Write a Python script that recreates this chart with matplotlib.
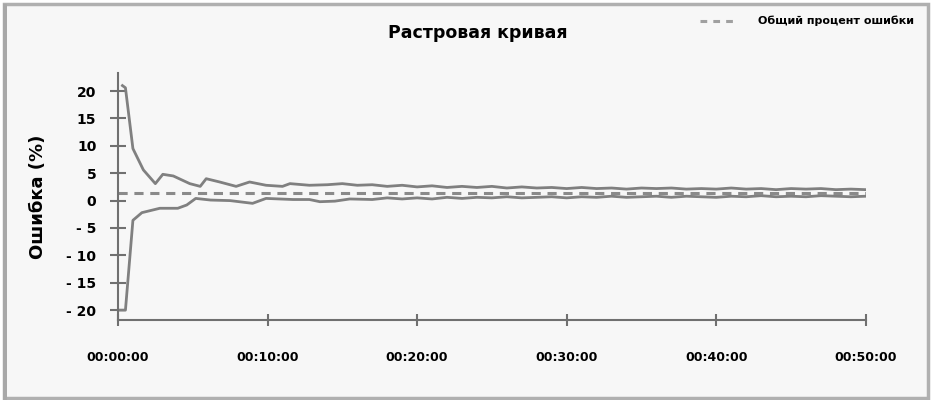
import matplotlib
matplotlib.use("Agg")
from matplotlib import pyplot as plt
from matplotlib.patches import Rectangle

# время в минутах и ошибка (%)
t_upper = [0.3, 0.5, 1.0, 1.7, 2.5, 3.0, 3.7, 4.8, 5.5, 5.9, 6.8, 7.9, 8.8, 9.9,
           11.0, 11.5, 12.8, 14, 15, 16, 17, 18, 19, 20, 21, 22, 23, 24, 25, 26,
           27, 28, 29, 30, 31, 32, 33, 34, 35, 36, 37, 38, 39, 40, 41, 42, 43,
           44, 45, 46, 47, 48, 49, 50]
upper = [21.0, 20.6, 9.5, 5.6, 3.1, 4.8, 4.5, 3.1, 2.6, 4.0, 3.4, 2.6, 3.4, 2.8,
         2.6, 3.1, 2.8, 2.9, 3.1, 2.8, 2.9, 2.6, 2.8, 2.5, 2.7, 2.4, 2.6, 2.4,
         2.6, 2.3, 2.5, 2.3, 2.4, 2.2, 2.4, 2.2, 2.3, 2.1, 2.3, 2.2, 2.3, 2.1,
         2.2, 2.1, 2.3, 2.1, 2.2, 2.0, 2.2, 2.1, 2.2, 2.0, 2.1, 2.0]

t_lower = [0.0, 0.5, 1.0, 1.6, 2.8, 4.0, 4.6, 5.2, 6.2, 7.5, 9.0, 9.9, 11.7,
           12.8, 13.5, 14.5, 15.5, 17, 18, 19, 20, 21, 22, 23, 24, 25, 26, 27,
           28, 29, 30, 31, 32, 33, 34, 35, 36, 37, 38, 39, 40, 41, 42, 43, 44,
           45, 46, 47, 48, 49, 50]
lower = [-20.0, -20.0, -3.6, -2.2, -1.4, -1.4, -0.8, 0.4, 0.1, 0.0, -0.5, 0.4,
         0.2, 0.2, -0.2, -0.1, 0.3, 0.2, 0.5, 0.3, 0.5, 0.3, 0.6, 0.4, 0.6,
         0.5, 0.7, 0.5, 0.6, 0.7, 0.5, 0.7, 0.6, 0.8, 0.6, 0.7, 0.8, 0.6, 0.8,
         0.7, 0.6, 0.8, 0.7, 0.9, 0.7, 0.8, 0.7, 0.9, 0.8, 0.7, 0.8]

total_error = 1.3

x_ticks = [0, 10, 20, 30, 40, 50]
x_labels = ["00:00:00", "00:10:00", "00:20:00", "00:30:00", "00:40:00", "00:50:00"]
y_ticks = [20, 15, 10, 5, 0, -5, -10, -15, -20]
y_labels = ["20", "15", "10", "5", "0", "- 5", "- 10", "- 15", "- 20"]

bg = "#f7f7f7"
line_c = "#808080"

fig = plt.figure(figsize=(9.31, 4), dpi=100, facecolor="white")
# рамка вокруг картинки
fig.patches.append(Rectangle((0.0045, 0.006), 0.9925, 0.985, transform=fig.transFigure,
                             facecolor=bg, edgecolor="#b0b0b0", linewidth=2.5, zorder=-2))
fig.patches.append(Rectangle((0.003, 0.0), 0.0045, 0.99, transform=fig.transFigure,
                             facecolor="#a8a8a8", edgecolor="none", zorder=-1))

ax = fig.add_axes([0.1267, 0.2, 0.8033, 0.6175])
ax.set_zorder(1)
ax.patch.set_alpha(0)

ax.plot(t_upper, upper, color=line_c, lw=2)
ax.plot(t_lower, lower, color=line_c, lw=2)
ax.plot([0, 50], [total_error, total_error], color="#8a8a8a", lw=2.2,
        dashes=(3, 2.2))

ax.set_xlim(0, 50)
ax.set_ylim(-21.8, 23.3)
for s in ["top", "right"]:
    ax.spines[s].set_visible(False)
for s in ["left", "bottom"]:
    ax.spines[s].set_color("#707070")
    ax.spines[s].set_linewidth(1.5)

ax.set_xticks(x_ticks)
ax.set_xticklabels(x_labels, fontsize=9, fontweight="bold")
ax.set_yticks(y_ticks)
ax.set_yticklabels(y_labels, fontsize=10, fontweight="bold")
ax.tick_params(axis="x", direction="inout", length=9, width=1.5, color="#707070", pad=18)
ax.tick_params(axis="y", direction="inout", length=11, width=1.5, color="#707070", pad=10)

ax.set_ylabel("Ошибка (%)", fontsize=13, fontweight="bold", labelpad=14)

fig.text(0.513, 0.917, "Растровая кривая", fontsize=12.5, fontweight="bold",
         ha="center", va="center")

# легенда
fig.lines.append(plt.Line2D([0.752, 0.791], [0.948, 0.948], transform=fig.transFigure,
                            color="#a0a0a0", lw=2.2, dashes=(2.2, 2.0)))
fig.text(0.814, 0.948, "Общий процент ошибки", fontsize=8, fontweight="bold",
         ha="left", va="center")

plt.savefig("out.png", dpi=100, facecolor="white")
